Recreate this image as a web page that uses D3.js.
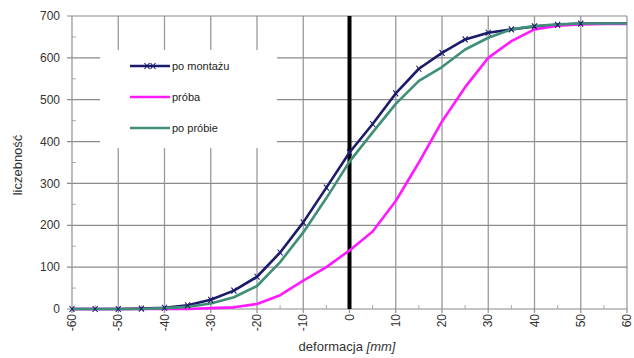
<!DOCTYPE html>
<html><head><meta charset="utf-8">
<script src="https://cdn.jsdelivr.net/npm/d3@7"></script>
<style>body{margin:0;background:#fff}svg{display:block;font-family:Arial,"Liberation Sans",sans-serif}</style>
</head><body>
<script>
const xVals = [-60,-55,-50,-45,-40,-35,-30,-25,-20,-15,-10,-5,0,5,10,15,20,25,30,35,40,45,50,55,60];
const poMontazu = [0,0,0,1,3,9,22,44,77,135,207,290,374,442,515,574,612,644,660,668,675,679,682,682,682];
const proba     = [0,0,0,0,0,0,2,4,12,33,68,100,140,185,258,350,448,530,600,640,668,677,680,681,681];
const poProbie  = [0,0,0,0,2,5,13,28,55,112,183,265,352,422,490,545,578,620,648,668,676,680,682,682,682];
const seriesNames = ["po montażu","próba","po próbie"];
const seriesColors = ["#1b1b6b","#ff1aff","#3f8f78"];
const xTicks = [-60,-50,-40,-30,-20,-10,0,10,20,30,40,50,60];
const yTicks = [0,100,200,300,400,500,600,700];

const W=634,H=358;
const svg=d3.select("body").append("svg").attr("width",W).attr("height",H);
const x=d3.scaleLinear().domain([-60,60]).range([72,627]);
const y=d3.scaleLinear().domain([0,700]).range([309,16]);

// grid
const g=svg.append("g");
g.selectAll(".vg").data(xTicks.slice(1)).join("line")
  .attr("x1",d=>x(d)).attr("x2",d=>x(d)).attr("y1",y(700)).attr("y2",y(0)+4)
  .attr("stroke","#9a9a9a").attr("stroke-width",1.3);
g.selectAll(".hg").data(yTicks).join("line")
  .attr("x1",x(-60)-5).attr("x2",x(60)).attr("y1",d=>y(d)).attr("y2",d=>y(d))
  .attr("stroke","#8a8a8a").attr("stroke-width",1.2);
// minor ticks
g.selectAll(".my").data(d3.range(50,700,100)).join("line")
  .attr("x1",x(-60)).attr("x2",x(-60)+4).attr("y1",d=>y(d)).attr("y2",d=>y(d))
  .attr("stroke","#aaa");
g.selectAll(".mx").data(d3.range(-55,60,10)).join("line")
  .attr("x1",d=>x(d)).attr("x2",d=>x(d)).attr("y1",y(0)).attr("y2",y(0)-4)
  .attr("stroke","#aaa");
// left axis
svg.append("line").attr("x1",x(-60)).attr("x2",x(-60)).attr("y1",y(700)).attr("y2",y(0)+4)
  .attr("stroke","#999").attr("stroke-width",1.3);

// legend box
svg.append("rect").attr("x",100).attr("y",50).attr("width",177).attr("height",98).attr("fill","#fff");

// zero line
svg.append("line").attr("x1",x(0)).attr("x2",x(0)).attr("y1",y(700)).attr("y2",y(0))
  .attr("stroke","#000").attr("stroke-width",4);

// series
const line=d3.line().x((d,i)=>x(xVals[i])).y(d=>y(d));
const data=[poMontazu,proba,poProbie];
[0,1,2].forEach(k=>{
  svg.append("path").datum(data[k]).attr("d",line).attr("fill","none")
    .attr("stroke",seriesColors[k]).attr("stroke-width",2.6).attr("stroke-linejoin","round");
});
// markers for po montażu
const mk=svg.append("g");
poMontazu.forEach((v,i)=>{
  if(xVals[i]>50) return;
  const cx=x(xVals[i]),cy=y(v);
  mk.append("path").attr("d",`M${cx-2.5},${cy-3}L${cx+2.5},${cy+3}M${cx-2.5},${cy+3}L${cx+2.5},${cy-3}`)
    .attr("stroke",seriesColors[0]).attr("stroke-width",1.1);
});

// y tick labels
svg.selectAll(".yl").data(yTicks).join("text")
  .attr("x",60).attr("y",d=>y(d)).attr("dy","0.35em").attr("text-anchor","end")
  .attr("font-size",12).attr("fill","#333").text(d=>d);
// x tick labels rotated
svg.selectAll(".xl").data(xTicks).join("text")
  .attr("transform",d=>`translate(${x(d)},314) rotate(-90)`)
  .attr("text-anchor","end").attr("dy","0.35em")
  .attr("font-size",12).attr("fill","#333").text(d=>d);

// axis titles
const xt=svg.append("text").attr("x",347).attr("y",351).attr("text-anchor","middle")
  .attr("font-size",13).attr("fill","#333");
xt.append("tspan").text("deformacja ");
xt.append("tspan").attr("font-style","italic").text("[mm]");
svg.append("text").attr("transform","translate(22,165) rotate(-90)").attr("text-anchor","middle")
  .attr("font-size",13).attr("fill","#333").text("liczebność");

// legend
const ly=[66,97,128];
seriesNames.forEach((n,k)=>{
  svg.append("line").attr("x1",130).attr("x2",170).attr("y1",ly[k]).attr("y2",ly[k])
    .attr("stroke",seriesColors[k]).attr("stroke-width",2.6);
  if(k===0){
    [147,153].forEach(cx=>svg.append("path").attr("d",`M${cx-2.5},${ly[k]-3}L${cx+2.5},${ly[k]+3}M${cx-2.5},${ly[k]+3}L${cx+2.5},${ly[k]-3}`)
      .attr("stroke",seriesColors[0]).attr("stroke-width",1.1));
  }
  svg.append("text").attr("x",172).attr("y",ly[k]).attr("dy","0.35em").attr("font-size",11)
    .attr("fill","#222").text(n);
});
</script>
</body></html>
